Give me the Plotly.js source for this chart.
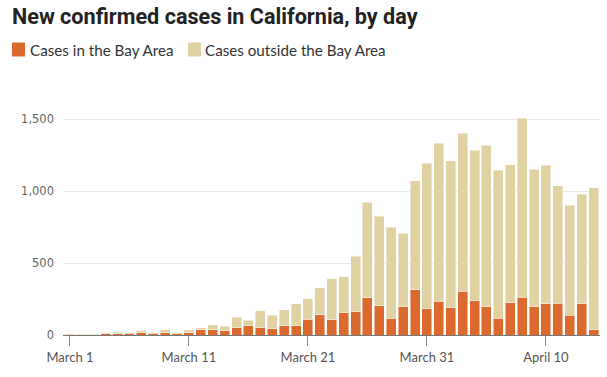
<!DOCTYPE html>
<html>
<head>
<meta charset="utf-8">
<script src="https://cdn.plot.ly/plotly-3.0.1.min.js"></script>
<style>
html,body{margin:0;padding:0;background:#fff;}
#chart{width:607px;height:377px;}
</style>
</head>
<body>
<div id="chart"></div>
<script>
// Dates (categories)
const dates = [
  '2020-03-01','2020-03-02','2020-03-03','2020-03-04','2020-03-05','2020-03-06','2020-03-07',
  '2020-03-08','2020-03-09','2020-03-10','2020-03-11','2020-03-12','2020-03-13','2020-03-14',
  '2020-03-15','2020-03-16','2020-03-17','2020-03-18','2020-03-19','2020-03-20','2020-03-21',
  '2020-03-22','2020-03-23','2020-03-24','2020-03-25','2020-03-26','2020-03-27','2020-03-28',
  '2020-03-29','2020-03-30','2020-03-31','2020-04-01','2020-04-02','2020-04-03','2020-04-04',
  '2020-04-05','2020-04-06','2020-04-07','2020-04-08','2020-04-09','2020-04-10','2020-04-11',
  '2020-04-12','2020-04-13','2020-04-14'
];
// New cases in the Bay Area
const bayCases = [
  6,3,3,7,10,10,16,12,16,9,14,37,37,28,51,65,51,44,65,65,109,141,107,155,162,
  260,204,118,197,315,183,236,189,306,239,195,116,225,264,197,218,222,139,218,35
];
// New cases outside the Bay Area
const outsideCases = [
  3,4,4,7,8,2,12,2,19,5,21,12,33,32,72,39,116,95,111,151,144,188,285,251,386,
  665,621,630,510,758,1013,1097,1024,1098,1045,1126,1029,961,1244,955,963,818,764,762,991
];
const seriesNames = ['Cases in the Bay Area', 'Cases outside the Bay Area'];
const seriesColors = ['#dc6a2f', '#e0d2a3'];
const yTickVals = [0, 500, 1000, 1500];
const yTickText = ['0', '500', '1,000', '1,500'];

const traces = [
  {
    type: 'bar', x: dates, y: bayCases, name: seriesNames[0],
    marker: {color: seriesColors[0], line: {color: 'rgba(255,255,255,0.45)', width: 1}},
    hoverinfo: 'x+y'
  },
  {
    type: 'bar', x: dates, y: outsideCases, name: seriesNames[1],
    marker: {color: seriesColors[1], line: {color: 'rgba(255,255,255,0.45)', width: 1}},
    hoverinfo: 'x+y'
  }
];

// plot area: x 63..600, y 105..335
const L = 63, R = 7, T = 105, B = 42, W = 607, H = 377;
const pw = W - L - R, ph = H - T - B;
const px = v => (v - L) / pw;
const py = v => (H - B - v) / ph;

const layout = {
  width: W, height: H,
  margin: {l: L, r: R, t: T, b: B, pad: 0},
  paper_bgcolor: '#fff', plot_bgcolor: '#fff',
  barmode: 'stack',
  bargap: 0.16,
  showlegend: false,
  font: {family: 'Lato, sans-serif', color: '#555'},
  title: {
    text: '<b>New confirmed cases in California, by day</b>',
    font: {family: 'Roboto, sans-serif', size: 21.6, color: '#222'},
    x: 12 / W, xanchor: 'left', xref: 'container',
    y: 1 - 9 / H, yanchor: 'top', yref: 'container'
  },
  xaxis: {
    type: 'date',
    range: ['2020-02-29 10:00', '2020-04-14 13:00'],
    tick0: '2020-03-01', dtick: 10 * 86400000,
    tickformat: '%B %-d',
    ticks: 'outside', ticklen: 10, tickcolor: '#888', tickwidth: 1,
    showline: true, linecolor: '#777', linewidth: 1,
    showgrid: false, zeroline: false,
    tickfont: {family: 'Lato, sans-serif', size: 13, color: '#555'}
  },
  yaxis: {
    range: [0, 1600],
    tickvals: yTickVals, ticktext: yTickText,
    showgrid: true, gridcolor: '#e8e8e8', gridwidth: 1,
    zeroline: false, showline: false, ticks: '',
    ticklabelstandoff: 8,
    tickfont: {family: 'DejaVu Sans, sans-serif', size: 11.5, color: '#666'}
  },
  shapes: [
    {type: 'rect', xref: 'paper', yref: 'paper', x0: px(12), x1: px(25), y0: py(56.5), y1: py(42.5),
     fillcolor: seriesColors[0], line: {width: 0}},
    {type: 'rect', xref: 'paper', yref: 'paper', x0: px(188), x1: px(201), y0: py(56.5), y1: py(42.5),
     fillcolor: seriesColors[1], line: {width: 0}}
  ],
  annotations: [
    {xref: 'paper', yref: 'paper', x: px(28), y: py(50), xanchor: 'left', yanchor: 'middle',
     text: seriesNames[0], showarrow: false, font: {family: 'Lato, sans-serif', size: 15.2, color: '#333'}},
    {xref: 'paper', yref: 'paper', x: px(203), y: py(50), xanchor: 'left', yanchor: 'middle',
     text: seriesNames[1], showarrow: false, font: {family: 'Lato, sans-serif', size: 15.2, color: '#333'}}
  ]
};

Plotly.newPlot('chart', traces, layout, {displayModeBar: false, staticPlot: true});
</script>
</body>
</html>
